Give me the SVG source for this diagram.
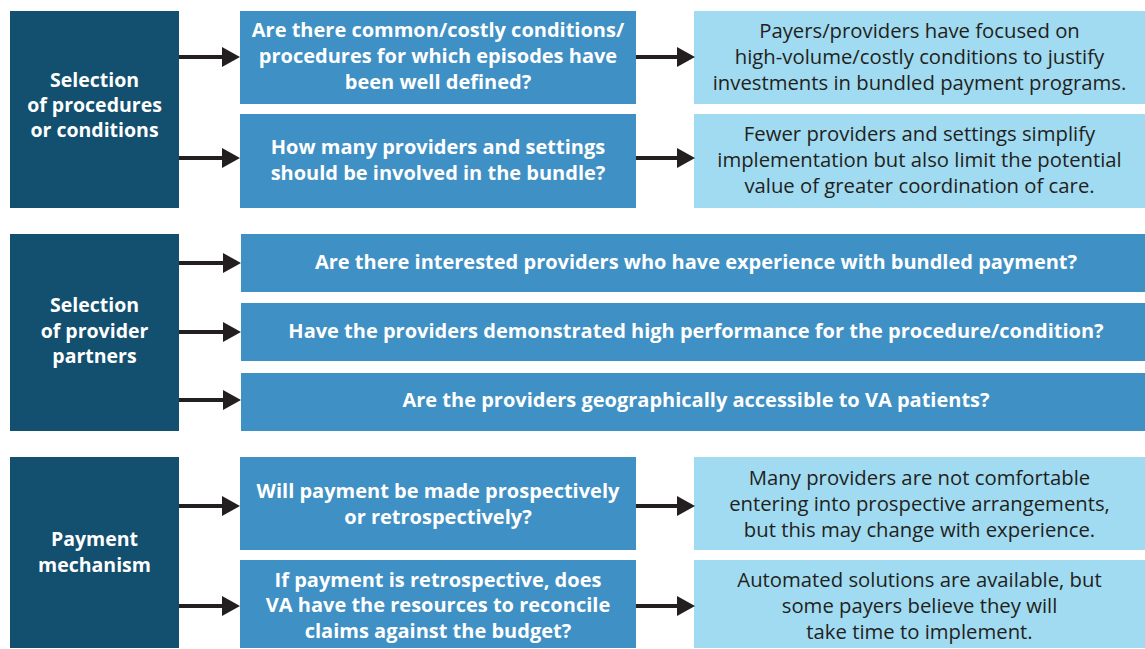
<svg xmlns="http://www.w3.org/2000/svg" width="1145" height="649" viewBox="0 0 1145 649">
<defs>
<style>
.dark{fill:#134f6e}
.mid{fill:#3f90c4}
.light{fill:#a0dbf1}
text{font-family:"Open Sans","Noto Sans","Liberation Sans",sans-serif;font-size:20px;text-anchor:middle}
.wb{fill:#ffffff;font-weight:bold}
.hd{font-size:19.5px}
.dk{fill:#231f20;font-weight:normal;font-size:20.3px}
.conn line{stroke:#231f20;stroke-width:4;marker-end:url(#ah)}
</style>
<marker id="ah" markerUnits="userSpaceOnUse" markerWidth="18" markerHeight="20" refX="2" refY="10" orient="auto">
<path d="M0,0 L18,10 L0,20 z" fill="#231f20"/>
</marker>
</defs>
<rect width="1145" height="649" fill="#ffffff"/>

<g id="sec1-head"><rect class="dark" x="10" y="11" width="169" height="197"/>
<text class="wb hd" x="94.5" y="87">Selection</text><text class="wb hd" x="94.5" y="112">of procedures</text><text class="wb hd" x="94.5" y="137">or conditions</text></g>
<g id="q1"><rect class="mid" x="240" y="11" width="396" height="93"/>
<text class="wb" x="438" y="37">Are there common/costly conditions/</text><text class="wb" x="438" y="63">procedures for which episodes have</text><text class="wb" x="438" y="89">been well defined?</text></g>
<g id="a1"><rect class="light" x="694" y="11" width="451" height="93"/>
<text class="dk" x="919.5" y="38">Payers/providers have focused on</text><text class="dk" x="919.5" y="64">high-volume/costly conditions to justify</text><text class="dk" x="919.5" y="90">investments in bundled payment programs.</text></g>
<g id="q2"><rect class="mid" x="240" y="114" width="396" height="94"/>
<text class="wb" x="438" y="154">How many providers and settings</text><text class="wb" x="438" y="180">should be involved in the bundle?</text></g>
<g id="a2"><rect class="light" x="694" y="114" width="451" height="94"/>
<text class="dk" x="919.5" y="141">Fewer providers and settings simplify</text><text class="dk" x="919.5" y="167">implementation but also limit the potential</text><text class="dk" x="919.5" y="193">value of greater coordination of care.</text></g>

<g id="sec2-head"><rect class="dark" x="10" y="234" width="169" height="197"/>
<text class="wb hd" x="94.5" y="312">Selection</text><text class="wb hd" x="94.5" y="338">of provider</text><text class="wb hd" x="94.5" y="363">partners</text></g>
<g id="q3"><rect class="mid" x="241" y="234" width="904" height="58"/>
<text class="wb" x="696" y="269">Are there interested providers who have experience with bundled payment?</text></g>
<g id="q4"><rect class="mid" x="241" y="303" width="904" height="58"/>
<text class="wb" x="696" y="338">Have the providers demonstrated high performance for the procedure/condition?</text></g>
<g id="q5"><rect class="mid" x="241" y="373" width="904" height="58"/>
<text class="wb" x="696" y="407">Are the providers geographically accessible to VA patients?</text></g>

<g id="sec3-head"><rect class="dark" x="10" y="457" width="169" height="191"/>
<text class="wb hd" x="94.5" y="546">Payment</text><text class="wb hd" x="94.5" y="572">mechanism</text></g>
<g id="q6"><rect class="mid" x="240" y="457" width="396" height="93"/>
<text class="wb" x="438" y="498">Will payment be made prospectively</text><text class="wb" x="438" y="524">or retrospectively?</text></g>
<g id="a6"><rect class="light" x="694" y="457" width="451" height="93"/>
<text class="dk" x="919.5" y="485">Many providers are not comfortable</text><text class="dk" x="919.5" y="511">entering into prospective arrangements,</text><text class="dk" x="919.5" y="537">but this may change with experience.</text></g>
<g id="q7"><rect class="mid" x="240" y="560" width="396" height="88"/>
<text class="wb" x="438" y="587">If payment is retrospective, does</text><text class="wb" x="438" y="612">VA have the resources to reconcile</text><text class="wb" x="438" y="638">claims against the budget?</text></g>
<g id="a7"><rect class="light" x="694" y="560" width="451" height="88"/>
<text class="dk" x="919.5" y="587">Automated solutions are available, but</text><text class="dk" x="919.5" y="613">some payers believe they will</text><text class="dk" x="919.5" y="639">take time to implement.</text></g>

<g id="connectors" class="conn">
<line x1="179" y1="57" x2="224" y2="57"/>
<line x1="179" y1="158" x2="224" y2="158"/>
<line x1="636" y1="57" x2="679" y2="57"/>
<line x1="636" y1="158" x2="679" y2="158"/>
<line x1="179" y1="263" x2="225" y2="263"/>
<line x1="179" y1="332" x2="225" y2="332"/>
<line x1="179" y1="400" x2="225" y2="400"/>
<line x1="179" y1="506" x2="224" y2="506"/>
<line x1="179" y1="606" x2="224" y2="606"/>
<line x1="636" y1="506" x2="679" y2="506"/>
<line x1="636" y1="606" x2="679" y2="606"/>
</g>
</svg>
